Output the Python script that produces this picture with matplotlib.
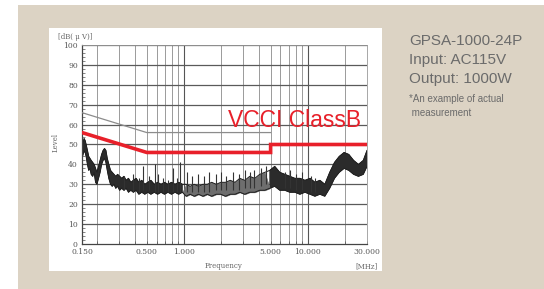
import matplotlib
matplotlib.use("Agg")
import matplotlib.pyplot as plt
from matplotlib.patches import Rectangle
from matplotlib.ticker import FixedLocator, NullFormatter
import numpy as np

# limit lines (MHz, dBuV)
limit_gray_f = [0.15, 0.5, 5.0]
limit_gray_db = [66, 56, 56]
vcci_f = [0.15, 0.5, 5.0, 5.0, 30.0]
vcci_db = [56, 46, 46, 50, 50]

noise_f = [0.150, 0.153, 0.156, 0.159, 0.162, 0.166, 0.170, 0.174, 0.178, 0.183,
           0.188, 0.193, 0.198, 0.204, 0.210, 0.216, 0.222, 0.228, 0.234, 0.240,
           0.247, 0.255, 0.263, 0.272, 0.281, 0.291, 0.302, 0.314, 0.327, 0.341,
           0.356, 0.372, 0.390, 0.410, 0.432, 0.456, 0.482, 0.510, 0.540, 0.575,
           0.612, 0.652, 0.695, 0.742, 0.792, 0.846, 0.905, 0.970, 1.04, 1.12,
           1.21, 1.31, 1.42, 1.54, 1.67, 1.82, 1.98, 2.16, 2.36, 2.58,
           2.82, 3.09, 3.39, 3.72, 4.08, 4.48, 4.92, 5.40, 5.93, 6.51,
           7.15, 7.85, 8.62, 9.47, 10.4, 11.4, 12.5, 13.7, 15.0, 16.4,
           17.9, 19.6, 21.4, 23.4, 25.6, 28.0, 30.0]
noise_lo = [43, 45, 47, 46, 44, 40, 37, 38, 35, 34,
            36, 31, 30, 33, 36, 40, 42, 43, 41, 37,
            33, 30, 29, 30, 28, 29, 27, 28, 27, 28,
            26, 27, 26, 27, 25, 26, 25, 26, 25, 26,
            25, 26, 25, 26, 25, 26, 25, 26, 24, 25,
            24, 25, 24, 25, 24, 25, 25, 24, 25, 25,
            26, 25, 26, 26, 27, 27, 28, 29, 27, 27,
            26, 26, 25, 26, 25, 24, 25, 24, 28, 33,
            36, 38, 37, 35, 34, 35, 39]
noise_hi = [49, 51, 53, 52, 50, 47, 44, 43, 42, 41,
            40, 38, 36, 39, 42, 45, 47, 48, 47, 43,
            40, 37, 36, 35, 34, 35, 34, 33, 34, 32,
            33, 31, 32, 33, 31, 32, 30, 31, 32, 30,
            31, 30, 31, 30, 31, 30, 31, 30, 30, 29,
            30, 29, 30, 30, 31, 30, 31, 31, 32, 31,
            33, 32, 34, 33, 35, 36, 37, 39, 36, 35,
            34, 33, 33, 32, 33, 31, 32, 30, 36, 41,
            44, 46, 45, 42, 40, 42, 47]

# narrow spikes above the band
spike_f = [0.33, 0.39, 0.43, 0.47, 0.52, 0.58, 0.62, 0.68, 0.74, 0.81,
           0.87, 0.93, 1.05, 1.15, 1.3, 1.45, 1.6, 1.8, 2.0, 2.2,
           2.5, 2.8, 3.1, 3.4, 3.7, 4.2, 4.6, 6.5, 7.2, 8.0,
           9.0, 10.5, 11.5]
spike_top = [34, 35, 33, 39, 34, 40, 35, 33, 32, 38,
             33, 41, 36, 34, 35, 34, 36, 35, 36, 34,
             36, 35, 37, 36, 37, 38, 39, 36, 37, 35,
             36, 34, 33]
spike_base = [27, 26, 26, 27, 27, 26, 26, 26, 26, 26,
              26, 26, 26, 26, 26, 26, 26, 27, 27, 27,
              27, 27, 28, 28, 28, 29, 30, 28, 28, 27,
              27, 26, 26]

x_ticks = [0.15, 0.5, 1.0, 5.0, 10.0, 30.0]
x_labels = ["0.150", "0.500", "1.000", "5.000", "10.000", "30.000"]
y_ticks = list(range(0, 101, 10))

W, H = 544, 289
fig = plt.figure(figsize=(W / 100, H / 100), dpi=100)
fig.patch.set_facecolor("white")

# beige panel and white scan box
fig.patches.append(Rectangle((18 / W, 0), 1, (H - 5) / H, transform=fig.transFigure,
                             facecolor="#dcd3c4", edgecolor="none", zorder=-2))
fig.patches.append(Rectangle((49 / W, (H - 271) / H), 333 / W, 243 / H,
                             transform=fig.transFigure, facecolor="white",
                             edgecolor="none", zorder=-1))

ax = fig.add_axes([82 / W, (H - 244) / H, 285 / W, 199 / H])
ax.set_zorder(3)
ax.set_facecolor("white")
ax.set_xscale("log")
ax.set_xlim(0.15, 30)
ax.set_ylim(0, 100)

minor_f = [0.2, 0.3, 0.4, 0.6, 0.7, 0.8, 0.9, 2, 3, 4, 6, 7, 8, 9, 20]
for f in minor_f + [0.5, 5.0]:
    ax.axvline(f, color="#8a8a8a", lw=0.6, zorder=1)
for f in [1.0, 10.0]:
    ax.axvline(f, color="#555555", lw=0.8, zorder=1)
for y in y_ticks[1:]:
    ax.axhline(y, color="#5a5a5a", lw=0.9, zorder=1)

nf = np.array(noise_f)
mid = (nf > 1.0) & (nf < 4.6)
ax.fill_between(nf, noise_lo, noise_hi, where=~mid, interpolate=True,
                color="#2b2b2b", lw=0.5, zorder=2)
ax.fill_between(nf, noise_lo, noise_hi, where=mid, interpolate=True,
                color="#6e6e6e", lw=0.5, zorder=2)
ax.plot(nf, noise_hi, color="#1e1e1e", lw=0.7, zorder=2)
ax.plot(nf, noise_lo, color="#1e1e1e", lw=0.7, zorder=2)
ax.vlines(spike_f, spike_base, spike_top, color="#333333", lw=0.8, zorder=2)

ax.plot(limit_gray_f, limit_gray_db, color="#8c8c8c", lw=0.9, zorder=3)
ax.plot(vcci_f, vcci_db, color="#e8202a", lw=2.6, zorder=4,
        solid_joinstyle="miter")

ax.text(0.98, 62, "VCCI ClassB", color="#e8202a", fontsize=16.5,
        family="Liberation Sans", ha="right", va="center", zorder=5,
        transform=ax.get_yaxis_transform())

ax.xaxis.set_major_locator(FixedLocator(x_ticks))
ax.set_xticklabels(x_labels)
ax.xaxis.set_minor_locator(FixedLocator(minor_f))
ax.xaxis.set_minor_formatter(NullFormatter())
ax.set_yticks(y_ticks)
ax.set_yticks(range(0, 101, 2), minor=True)
ax.tick_params(axis="both", which="both", direction="in", colors="#555555",
               labelsize=5.5, labelcolor="#555555", length=2, width=0.5, pad=3)
for lab in ax.get_xticklabels() + ax.get_yticklabels():
    lab.set_family("DejaVu Serif")

for s in ["left", "bottom"]:
    ax.spines[s].set_color("#444444")
    ax.spines[s].set_linewidth(0.9)
for s in ["top", "right"]:
    ax.spines[s].set_color("#999999")
    ax.spines[s].set_linewidth(0.6)

txt = dict(color="#666666", fontsize=5, family="DejaVu Serif")
fig.text(56 / W, 1 - 143 / H, "Level", rotation=90, ha="center", va="center", **txt)
fig.text(224 / W, 1 - 266 / H, "Frequency", ha="center", va="center", **txt)
fig.text(366 / W, 1 - 266 / H, "[MHz]", ha="center", va="center", **txt)
fig.text(75 / W, 1 - 37 / H, "[dB( \u03bc V)]", ha="center", va="center", **txt)

side = dict(color="#6b6b6b", family="Liberation Sans", ha="left", va="center")
fig.text(409 / W, 1 - 41 / H, "GPSA-1000-24P", fontsize=11, **side)
fig.text(409 / W, 1 - 60 / H, "Input: AC115V", fontsize=11, **side)
fig.text(409 / W, 1 - 79 / H, "Output: 1000W", fontsize=11, **side)
fig.text(409 / W, 1 - 99 / H, "*An example of actual", fontsize=7, **side)
fig.text(409 / W, 1 - 113 / H, " measurement", fontsize=7, **side)

fig.savefig("out.png", dpi=100, facecolor=fig.get_facecolor())
